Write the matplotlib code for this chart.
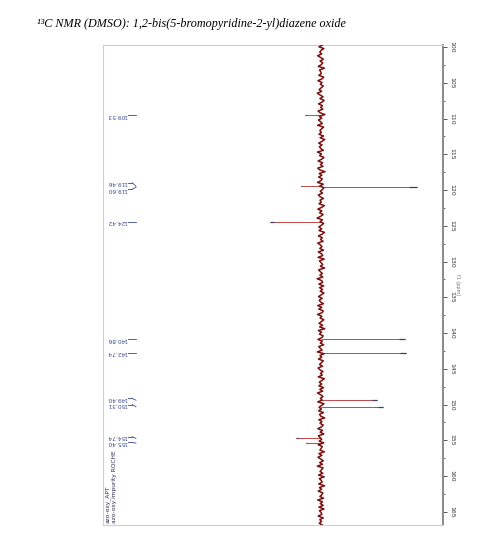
import numpy as np
import matplotlib
matplotlib.use("Agg")
import matplotlib.pyplot as plt

# ---- data ----
peak_ppm = [109.53, 119.46, 119.60, 124.42, 140.86, 142.74, 149.40, 150.31, 154.74, 155.40]
peak_int = [-17, -21, 100, -53, 88, 89, 58, 65, -26, -16]
peak_labels = ["109.53", "119.46", "119.60", "124.42", "140.86", "142.74",
               "149.40", "150.31", "154.74", "155.40"]
noise = [
    1.5, -2.1, 3.0, 0.2, -1.2, 0.8, -3.4, -0.5, 2.6, -0.9,
    1.9, 0.4, -2.8, 3.6, -1.5, -0.2, 0.4, -2.2, 2.9, 1.0,
    -3.1, 1.1, -0.6, 2.4, 0.3, -1.9, 0.7, -3.8, -1.0, 2.2,
    -1.0, 3.3, 1.2, -2.5, 1.6, -0.3, 2.0, -3.0, -0.8, 4.1,
    -1.7, 0.9, -2.6, -0.4, 1.4, -3.5, 2.8, 0.6, -1.1, 0.5,
    -2.0, 2.7, -0.8, 3.9, 1.1, -2.3, 1.2, -1.6, -0.2, 2.5,
    -3.7, 0.6, -1.4, 3.2, 0.8, -2.9, 1.8, -0.5, 2.1, -3.3,
    -1.2, 4.3, -1.8, 0.9, -2.4, 1.3, 0.1, -3.6, 2.4, -1.3,
    3.1, 1.5, -0.7, 1.7, -2.7, -0.9, 2.6, -1.0, 0.4, -2.0,
    3.5, 0.7, -3.2, 1.0, -1.5, 2.3, -0.3, -4.0, 1.6, -0.9,
    2.9, 0.5, -2.2, 0.8, -1.9, 3.7, 1.3, -2.6, 1.4, -0.4,
    2.2, -3.4, -0.6, 1.1, -1.2, 2.7, -2.8, 0.6, 1.9, -3.0,
    3.4, -1.6, 0.2, 1.9, -0.6, 3.8, -2.4, -0.7, 1.5, -1.1,
    2.0, -3.9, 0.7, 1.8, -2.1, 2.8, -1.4, 1.7, -0.8, 3.2,
    0.3, -2.5, 1.3, -1.8, -0.4, 2.6, -3.3, 0.9, -2.2, 2.4,
    1.2, -3.5, 1.0, -0.9, 3.0, 0.4, -2.0, 1.8, -1.3, 4.0,
    -2.7, 0.6, -1.6, 2.3, 0.9, -3.1, 1.5, -0.7, 2.9, -2.3,
    -0.5, 1.2, -3.8, 3.3, -1.0, 0.8, -2.6, 2.5, 0.6, -1.4,
    1.6, -3.0, -1.1, 2.1, -0.5, 1.4, -2.8, 3.6, 0.8, -1.7,
    0.9, -2.1, 2.7, -1.2, 1.8, -3.6, -0.3, 2.2, -0.6, 1.3,
    -3.3, 3.1, 0.7, -1.9, 0.5, -2.4, 2.6, -1.5, -0.2, 3.9,
    -2.2, 1.1, -1.0, 2.4, 0.5, -3.2, 1.7, -0.8, 3.0, -2.6,
    -0.9, 0.8, -1.8, 2.9, -2.9, 1.4, 0.3, -1.1, 3.5, -2.0,
    1.0, -3.1, -0.4, 2.5, -1.3, 1.6, -3.7, 2.2, 0.6, -0.9,
    1.9, -2.5, 3.3, -1.7, 0.4, 1.2, -2.3, 3.8, -1.5, 0.7,
    -2.8, 2.0, 0.9, -1.1, 2.7, -3.4, 1.6, -0.7, 2.3, -2.1,
    3.2, -1.6, 0.2, 1.0, -2.9, 2.4, -1.2, 0.6, -1.8, 1.4,
]
ppm_min, ppm_max = 99.72, 166.85
title = "¹³C NMR (DMSO): 1,2-bis(5-bromopyridine-2-yl)diazene oxide"
sample_text = "azo-oxy_APT\nazo-oxy impurity ROCHE"
axis_label = "f1 (ppm)"

# ---- figure ----
fig = plt.figure(figsize=(4.94, 5.59), dpi=100)
fig.text(0.075, 0.952, title, fontsize=8.7, family="Liberation Serif",
         style="italic", ha="left", va="baseline")

ax = fig.add_axes([0.2085, 0.0608, 0.688, 0.8587])
ppm_grid = np.linspace(ppm_min, ppm_max, len(noise))
ax.plot(noise, ppm_grid, color="#7a1010", lw=1.1, zorder=3)

# peaks
ax.hlines(peak_ppm, 0, peak_int, color="#c04848", lw=0.7, zorder=2)
tips = [0.92 * v for v in peak_int]
ax.hlines(peak_ppm, tips, peak_int, color="#3c3c6e", lw=0.9, zorder=2)

ax.set_ylim(ppm_max, ppm_min)
ax.set_xlim(-227, 127)

# axis styling
for s in ["left", "top", "bottom"]:
    ax.spines[s].set_color("#cfcfcf")
    ax.spines[s].set_linewidth(0.8)
ax.spines["right"].set_color("#8a8a8a")
ax.spines["right"].set_linewidth(1.4)
ax.set_xticks([])
ax.yaxis.tick_right()
ax.set_yticks(np.arange(100, 166, 5))
ax.set_yticks(np.arange(102.5, 166, 2.5), minor=True)
ax.tick_params(axis="y", which="major", length=3, width=0.7, color="#555555",
               labelsize=4.5, pad=2, labelcolor="#333333")
ax.tick_params(axis="y", which="minor", length=1.5, width=0.6, color="#555555")
for lab in ax.get_yticklabels():
    lab.set_rotation(-90)
    lab.set_va("center")
ax.yaxis.set_label_position("right")
ax.set_ylabel(axis_label, rotation=-90, fontsize=3.5, color="#777777", labelpad=4)

# peak labels (left side, upside-down as in rotated spectrum)
label_pos = [109.53, 119.0, 119.9, 124.42, 140.86, 142.74, 149.15, 150.0, 154.5, 155.3]
trans = ax.get_yaxis_transform()
for p, lp, txt in zip(peak_ppm, label_pos, peak_labels):
    ax.text(0.012, lp, txt, transform=trans, rotation=180, fontsize=4.2,
            color="#3a4a8c", ha="left", va="center")
    ax.plot([0.074, 0.086], [lp, lp], transform=trans,
            color="#3a4a8c", lw=0.6, clip_on=False)
    ax.plot([0.086, 0.097], [lp, p], transform=trans,
            color="#3a4a8c", lw=0.6, clip_on=False)

ax.text(0.006, 0.004, sample_text, transform=ax.transAxes, rotation=90,
        fontsize=4.2, color="#2a2a4a", ha="left", va="bottom",
        multialignment="left")

fig.savefig("out.png", dpi=100)
